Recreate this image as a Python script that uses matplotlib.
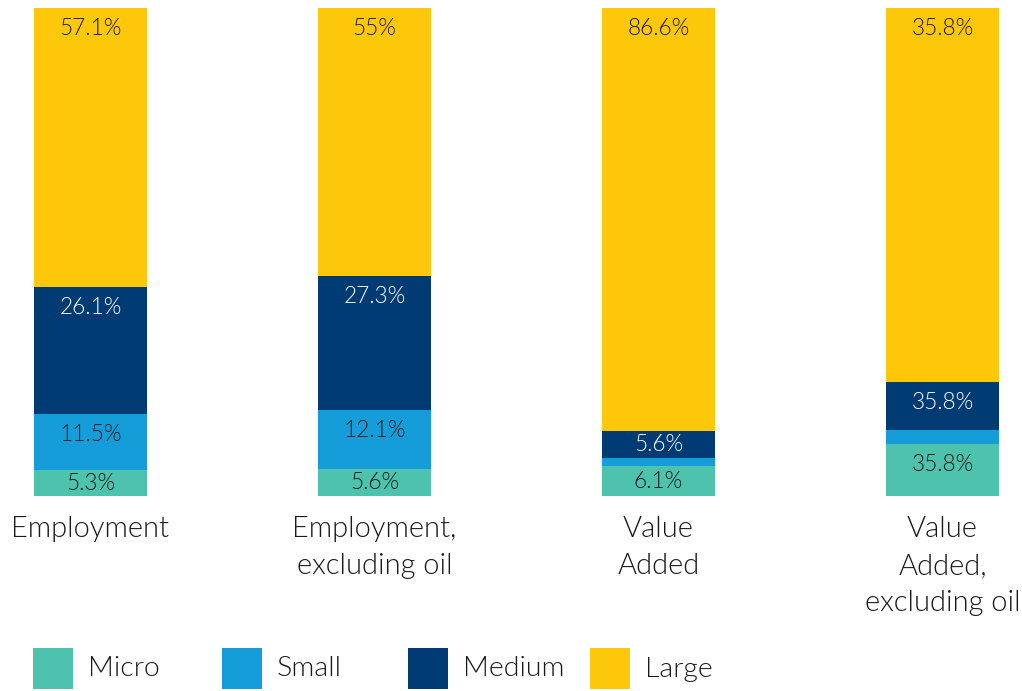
import matplotlib
matplotlib.use("Agg")
import matplotlib.pyplot as plt
from matplotlib.patches import Rectangle
import numpy as np

plt.rcParams['font.family'] = ['Lato', 'DejaVu Sans']

categories = ["Employment", "Employment,\nexcluding oil", "Value\nAdded", "Value\nAdded,\nexcluding oil"]
series_names = ["Micro", "Small", "Medium", "Large"]
micro = [5.3, 5.6, 6.1, 10.7]
small = [11.5, 12.1, 1.7, 2.9]
medium = [26.1, 27.3, 5.6, 9.8]
large = [57.1, 55.0, 86.6, 76.6]
# labels as printed in the chart (None = no label)
micro_labels = ["5.3%", "5.6%", "6.1%", "35.8%"]
small_labels = ["11.5%", "12.1%", None, None]
medium_labels = ["26.1%", "27.3%", "5.6%", "35.8%"]
large_labels = ["57.1%", "55%", "86.6%", "35.8%"]

colors = ["#4DC2AD", "#159DD9", "#003B74", "#FEC80A"]
text_colors = ["#1a1a1a", "#1a1a1a", "#ffffff", "#1a1a1a"]
FW = 300

W, H = 1022, 691
fig = plt.figure(figsize=(W / 100, H / 100), dpi=100)
ax = fig.add_axes([0, (H - 496) / H, 1, 488 / H])

x = np.arange(len(categories))
unit = 284.0
x0 = 90.5
ax.set_xlim(-x0 / unit, (W - x0) / unit)
ax.set_ylim(0, 100)

data = [micro, small, medium, large]
labels = [micro_labels, small_labels, medium_labels, large_labels]
bottom = np.zeros(len(categories))
px_per_unit = 488 / 100.0
for s, (vals, labs, col, tc) in enumerate(zip(data, labels, colors, text_colors)):
    vals = np.array(vals, dtype=float)
    ax.bar(x, vals, width=0.398, bottom=bottom, color=col, edgecolor='none')
    for i in range(len(categories)):
        if labs[i] is None:
            continue
        top = bottom[i] + vals[i]
        off = min(20.5 / px_per_unit, vals[i] / 2)
        ax.text(x[i], top - off, labs[i], ha='center', va='center',
                fontsize=16.3, color=tc, fontweight=FW)
    bottom += vals

ax.axis('off')

# category labels
for i, c in enumerate(categories):
    fig.text((x0 + unit * i) / W, 1 - 516 / H, c, ha='center', va='top',
             fontsize=21, color='#1a1a1a', linespacing=1.53, fontweight=FW)

# legend (manual, fixed item pitch)
leg_x = [33, 222, 408, 590]
for xs, col, name in zip(leg_x, colors, series_names):
    fig.add_artist(Rectangle((xs / W, 1 - 689 / H), 40 / W, 41 / H,
                             transform=fig.transFigure, facecolor=col, edgecolor='none'))
    fig.text((xs + 55) / W, 1 - 669 / H, name, ha='left', va='center',
             fontsize=20.5, color='#1a1a1a', fontweight=FW)

fig.savefig("out.png", dpi=100)
